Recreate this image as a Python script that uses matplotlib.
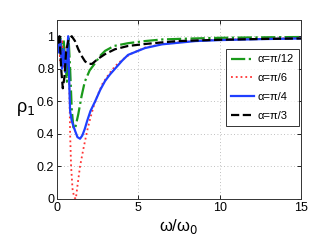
import matplotlib
matplotlib.use("Agg")
import matplotlib.pyplot as plt

plt.rcParams['font.family'] = ['Liberation Sans', 'DejaVu Sans']

labels = ['α=π/12', 'α=π/6', 'α=π/4', 'α=π/3']

x_a12 = [0.0, 0.1, 0.2, 0.3, 0.4, 0.5, 0.6, 0.7, 0.8, 0.9, 1.0, 1.1, 1.3, 1.5, 1.7, 2.0, 2.34, 2.65, 2.95, 3.5, 4.36, 5.4, 6.45, 8.0, 10.0, 12.5, 15.0]
y_a12 = [1.0, 0.95, 1.0, 0.9, 0.98, 0.85, 0.72, 1.0, 0.8, 0.55, 0.44, 0.43, 0.52, 0.63, 0.72, 0.79, 0.835, 0.88, 0.91, 0.94, 0.957, 0.97, 0.98, 0.985, 0.99, 0.993, 0.995]

x_a6 = [0.0, 0.1, 0.2, 0.3, 0.4, 0.5, 0.6, 0.7, 0.75, 0.8, 0.86, 0.95, 1.05, 1.15, 1.25, 1.41, 1.6, 1.85, 2.05, 2.25, 2.5, 2.8, 3.2, 3.56, 4.0, 4.5, 5.4, 6.45, 8.5, 10.0, 12.5, 15.0]
y_a6 = [1.0, 0.95, 0.85, 0.98, 0.8, 0.9, 0.95, 0.9, 0.7, 0.4, 0.2, 0.06, 0.01, 0.0, 0.08, 0.2, 0.3, 0.42, 0.5, 0.57, 0.64, 0.71, 0.77, 0.815, 0.855, 0.89, 0.93, 0.952, 0.972, 0.978, 0.984, 0.988]

x_a4 = [0.0, 0.1, 0.2, 0.3, 0.4, 0.5, 0.6, 0.68, 0.75, 0.8, 0.9, 1.0, 1.1, 1.25, 1.41, 1.55, 1.7, 1.85, 2.05, 2.34, 2.65, 2.95, 3.25, 3.56, 4.0, 4.36, 5.4, 6.45, 8.5, 10.0, 12.5, 15.0]
y_a4 = [1.0, 0.9, 0.98, 0.8, 0.92, 0.78, 0.85, 1.0, 0.7, 0.54, 0.48, 0.45, 0.42, 0.38, 0.37, 0.39, 0.43, 0.48, 0.54, 0.6, 0.67, 0.725, 0.765, 0.8, 0.85, 0.885, 0.927, 0.95, 0.97, 0.976, 0.982, 0.986]

x_a3 = [0.0, 0.1, 0.15, 0.25, 0.35, 0.45, 0.55, 0.7, 0.9, 1.1, 1.3, 1.5, 1.72, 1.95, 2.15, 2.5, 2.95, 3.56, 4.36, 5.4, 6.45, 7.4, 10.0, 12.5, 15.0]
y_a3 = [1.0, 0.96, 1.0, 0.8, 0.68, 0.75, 0.9, 0.98, 1.0, 0.97, 0.92, 0.88, 0.845, 0.83, 0.83, 0.86, 0.89, 0.92, 0.94, 0.952, 0.962, 0.97, 0.978, 0.983, 0.986]

fig = plt.figure(figsize=(3.32, 2.49), dpi=100)
ax = fig.add_axes([0.172, 0.201, 0.735, 0.719])

ax.plot(x_a12, y_a12, color='#1a9a1a', linestyle='-.', linewidth=1.6, label=labels[0])
ax.plot(x_a6, y_a6, color='#ff3333', linestyle=':', linewidth=1.3, label=labels[1])
ax.plot(x_a4, y_a4, color='#1f3fff', linestyle='-', linewidth=1.6, label=labels[2])
ax.plot(x_a3, y_a3, color='black', linestyle='--', linewidth=1.6, label=labels[3])

ax.set_xlim(0, 15)
ax.set_ylim(0, 1.1)
ax.set_xticks([0, 5, 10, 15])
ax.set_yticks([0, 0.2, 0.4, 0.6, 0.8, 1])
ax.set_yticklabels(['0', '0.2', '0.4', '0.6', '0.8', '1'])
ax.tick_params(labelsize=9, direction='in', length=3, width=0.6, top=True, right=True, pad=2)
ax.grid(True, linestyle=(0, (1, 3)), color='#aaaaaa', linewidth=0.6)
for s in ax.spines.values():
    s.set_linewidth(0.7)
    s.set_color('#333333')

ax.set_ylabel(r'ρ$_1$', fontsize=13, rotation=0, labelpad=12)
ax.yaxis.set_label_coords(-0.13, 0.45)
ax.set_xlabel(r'ω/ω$_0$', fontsize=12, labelpad=2)

leg = ax.legend(loc='upper right', bbox_to_anchor=(0.99, 0.835), fontsize=8, frameon=True,
                fancybox=False, edgecolor='black', handlelength=2.1, borderpad=0.45,
                labelspacing=0.8, handletextpad=0.3, borderaxespad=0.0)
leg.get_frame().set_linewidth(0.7)

fig.savefig('out.png', dpi=100)
